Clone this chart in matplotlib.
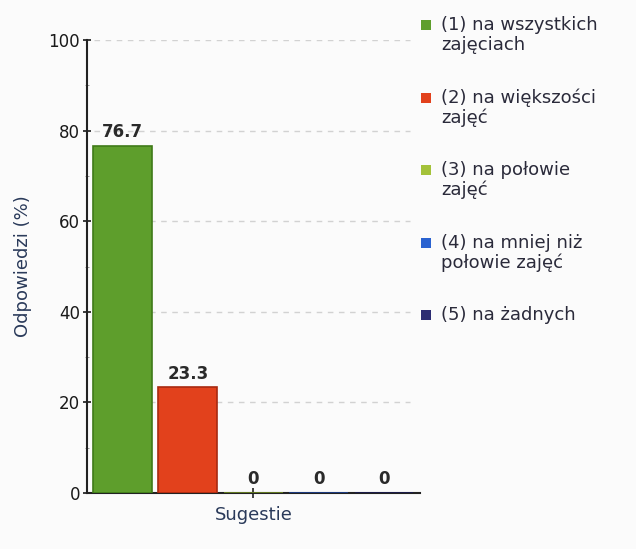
import matplotlib
matplotlib.use("Agg")
import matplotlib.pyplot as plt
from matplotlib.patches import Rectangle

categories = ["(1) na wszystkich\nzajęciach",
              "(2) na większości\nzajęć",
              "(3) na połowie\nzajęć",
              "(4) na mniej niż\npołowie zajęć",
              "(5) na żadnych"]
values = [76.7, 23.3, 0, 0, 0]
value_labels = ["76.7", "23.3", "0", "0", "0"]
colors = ["#5e9e2c", "#e2411c", "#a4c23a", "#2a62d0", "#2c2c72"]
edges = ["#3f7a18", "#a82a10", "#6e8a20", "#1a3e90", "#1a1a50"]
yticks = [0, 20, 40, 60, 80, 100]
xlabel = "Sugestie"
ylabel = "Odpowiedzi (%)"

plt.rcParams['font.family'] = ['DejaVu Sans']
W, H = 636, 549
fig = plt.figure(figsize=(W/100, H/100), dpi=100)
fig.patch.set_facecolor("#fbfbfb")

ax = fig.add_axes([87/W, 1-493/H, (420-87)/W, (493-40)/H])
ax.set_facecolor("#fbfbfb")
x = list(range(len(values)))
ax.bar(x, values, width=0.9, color=colors, edgecolor=edges, linewidth=1.2, zorder=3)
for xi, v, lab in zip(x, values, value_labels):
    ax.text(xi, v + 1.0, lab, ha="center", va="bottom", fontsize=12,
            fontweight="bold", color="#2a2a2a", zorder=4)

ax.set_xlim(-0.54, 4.55)
ax.set_ylim(0, 100)
ax.set_yticks(yticks)
ax.set_yticks([10, 30, 50, 70, 90], minor=True)
ax.tick_params(axis="y", which="major", length=6, direction="inout", labelsize=12,
               colors="#1a1a1a", width=1.2, pad=2)
ax.tick_params(axis="y", which="minor", length=3, direction="inout", color="#888888")
ax.set_xticks([2])
ax.set_xticklabels([""])
ax.tick_params(axis="x", length=7, direction="inout", width=1.2, color="#222222")

for s in ["top", "right"]:
    ax.spines[s].set_visible(False)
ax.spines["left"].set_linewidth(1.5)
ax.spines["bottom"].set_linewidth(1.5)
ax.spines["left"].set_color("#222222")
ax.spines["bottom"].set_color("#222222")

for yv in yticks[1:]:
    ax.axhline(yv, xmin=0.02, xmax=0.97, color="#d2d2d2", linestyle=(0, (4, 4)),
               linewidth=1, zorder=1)

ax.set_xlabel(xlabel, fontsize=13, color="#2a3a5a", labelpad=2)
ax.set_ylabel(ylabel, fontsize=13, color="#2a3a5a", labelpad=12)

# legend
ys = [25, 98, 170, 243, 315]
for cat, c, yy in zip(categories, colors, ys):
    fig.patches.append(Rectangle((421/W, 1-(yy+5)/H), 10/W, 10/H, transform=fig.transFigure,
                                 facecolor=c, edgecolor="none"))
    lines = cat.split("\n")
    fig.text(441/W, 1-yy/H, lines[0], fontsize=13, color="#2a2a3a", va="center", ha="left")
    if len(lines) > 1:
        fig.text(441/W, 1-(yy+20)/H, lines[1], fontsize=13, color="#2a2a3a",
                 va="center", ha="left")

fig.savefig("out.png", dpi=100, facecolor=fig.get_facecolor())
